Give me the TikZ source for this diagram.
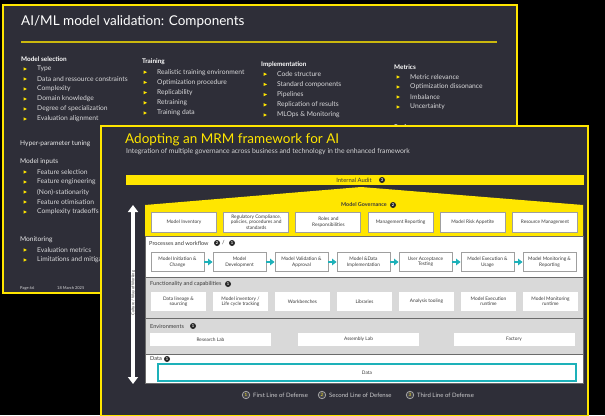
\documentclass[tikz,border=0pt]{standalone}
\usepackage{fontspec}
\setmainfont{Lato}
\usetikzlibrary{arrows.meta}
\definecolor{slate}{HTML}{2E2E38}
\definecolor{eyy}{HTML}{FFE600}
\definecolor{pgrey}{HTML}{D9D9D9}
\definecolor{tealc}{HTML}{1DB1B9}
\definecolor{bordg}{HTML}{6B6B6B}
\definecolor{boxtxt}{HTML}{3A3A3A}
\newcommand\fsz[2]{\fontsize{#1pt}{#2pt}\selectfont}
\tikzset{
 backtitle/.style={anchor=west, text=white, font=\fsz{13.5}{15}, inner sep=0},
 backhead/.style={anchor=west, text=white, font=\fsz{6.4}{7}\bfseries, inner sep=0},
 backhdr/.style={anchor=west, text=white!90!slate, font=\fsz{6.6}{7}, inner sep=0},
 backitem/.style={anchor=west, text=white!82!slate, font=\fsz{6.7}{7.5}, inner sep=0},
 govbox/.style={draw=gray!75, fill=white, line width=0.9, minimum width=65, minimum height=20, inner sep=0.5, align=center, text=boxtxt, font=\fsz{4.8}{5.4}},
 procbox/.style={govbox, minimum width=53, minimum height=19.5},
 funcbox/.style={govbox, draw=none, minimum width=55, minimum height=19},
 envbox/.style={govbox, draw=none, minimum width=121, minimum height=13},
 panellbl/.style={anchor=west, text=boxtxt, font=\fsz{5.6}{6}, inner sep=0},
 numdot/.style={circle, fill=black!85, text=white, font=\fsz{4}{4}\bfseries, inner sep=0, minimum size=6},
 legdot/.style={circle, draw=gray!65, line width=0.7, fill=slate!70!gray, text=eyy!85!white, font=\fsz{4.5}{5}, inner sep=0, minimum size=7.5},
 legtxt/.style={anchor=west, text=white!75!slate, font=\fsz{6}{6.5}, inner sep=0},
 flow/.style={tealc, line width=2.4, -{Triangle[width=6.5,length=4.5]}},
 panel/.style={draw=bordg, line width=1},
}
\begin{document}
\begin{tikzpicture}[x=1pt,y=-1pt]
\useasboundingbox (0,0) rectangle (605,415);
\fill[black] (0,0) rectangle (605,415);
% ---------- back slide ----------
\draw[eyy, line width=1.5, fill=slate] (3,5) rectangle (517,293);
\node[backtitle] (bt) at (21,22) {AI/ML model validation: Components};
\draw[eyy!75!slate, line width=1.2] (21,42) -- (497,42);
% Model selection
\node[backhead] (h-ms) at (21,59) {Model selection};
\foreach \t [count=\i] in {Type, Data and ressource constraints, Complexity, Domain knowledge, Degree of specialization, Evaluation alignment}{
  \node[backitem] (ms\i) at (37,59+10*\i) {\t};
  \fill[eyy] (23.5,59+10*\i-1.7) -- (27,59+10*\i) -- (23.5,59+10*\i+1.7) -- cycle;}
% Training
\node[backhead] (h-tr) at (142,62) {Training};
\foreach \t [count=\i] in {Realistic training environment, Optimization procedure, Replicability, Retraining, Training data}{
  \node[backitem] (tr\i) at (157,62+10.2*\i) {\t};
  \fill[eyy] (143.5,62+10.2*\i-1.7) -- (147,62+10.2*\i) -- (143.5,62+10.2*\i+1.7) -- cycle;}
% Implementation
\node[backhead] (h-im) at (261,65) {Implementation};
\foreach \t [count=\i] in {Code structure, Standard components, Pipelines, Replication of results, MLOps \& Monitoring}{
  \node[backitem] (im\i) at (277,64+10.2*\i) {\t};
  \fill[eyy] (263.5,64+10.2*\i-1.7) -- (267,64+10.2*\i) -- (263.5,64+10.2*\i+1.7) -- cycle;}
% Metrics
\node[backhead] (h-me) at (394,67) {Metrics};
\foreach \t [count=\i] in {Metric relevance, Optimization dissonance, Imbalance, Uncertainty}{
  \node[backitem] (me\i) at (410,67+10*\i) {\t};
  \fill[eyy] (396.5,67+10*\i-1.7) -- (400,67+10*\i) -- (396.5,67+10*\i+1.7) -- cycle;}
\node[backhead] (h-pe) at (394,127.5) {Performance};
% Hyper-parameter / inputs
\node[backhdr] (h-hp) at (20,144) {Hyper-parameter tuning};
\node[backhdr] (h-mi) at (20,162) {Model inputs};
\foreach \t [count=\i] in {Feature selection, Feature engineering, (Non)-stationarity, Feature otimisation, Complexity tradeoffs}{
  \node[backitem] (mi\i) at (37,162+10*\i) {\t};
  \fill[eyy] (23.5,162+10*\i-1.7) -- (27,162+10*\i) -- (23.5,162+10*\i+1.7) -- cycle;}
\node[backhdr] (h-mo) at (20,240) {Monitoring};
\foreach \t [count=\i] in {Evaluation metrics, Limitations and mitigations}{
  \node[backitem] (mo\i) at (37,240+10*\i) {\t};
  \fill[eyy] (23.5,240+10*\i-1.7) -- (27,240+10*\i) -- (23.5,240+10*\i+1.7) -- cycle;}
\node[backitem, font=\fsz{4}{4.5}] (pg) at (20,288) {Page 66};
\node[backitem, font=\fsz{4}{4.5}] (dt) at (57,288) {18 March 2025};
% ---------- front slide ----------
\draw[eyy, line width=1.5, fill=slate] (101,126) rectangle (588,416);
\node[backtitle, text=eyy] (ft) at (125,140) {Adopting an MRM framework for AI};
\node[backitem, font=\fsz{6.85}{7.5}, text=white!80!slate] (fst) at (126,152) {Integration of multiple governance across business and technology in the enhanced framework};
% internal audit
\fill[eyy] (126,175) rectangle (584,185);
\node[panellbl, anchor=center, font=\fsz{5.9}{6.5}] (ia) at (354,180) {Internal Audit};
\node[numdot] (ia-d) at (382,180) {3};
% panels
\filldraw[panel, fill=white] (145,236) rectangle (583,277);
\filldraw[panel, fill=pgrey] (145,277) rectangle (583,318);
\filldraw[panel, fill=pgrey] (145,318) rectangle (583,354);
\filldraw[panel, fill=white] (145,354) rectangle (583,383);
\fill[eyy] (145,236) -- (145,205) -- (361,187) -- (583,205) -- (583,236) -- cycle;
\draw[bordg, line width=1] (145,236) -- (583,236);
% governance
\node[panellbl, anchor=center, font=\fsz{5.4}{6}\bfseries] (mg) at (364,205) {Model Governance};
\node[numdot] (mg-d) at (393,205) {2};
\foreach \t [count=\i] in {Model Inventory, {Regulatory Compliance,\\policies, procedures and\\standards}, {Roles and\\Responsibilities}, Management Reporting, Model Risk Appetite, Resource Management}{
  \node[govbox] (g\i) at (184+72.2*\i-72.2,222) {\t};}
% processes
\node[panellbl] (pw) at (149,243) {Processes and workflow};
\node[numdot] (pw-d2) at (217,243) {2};
\node[panellbl] (pw-sl) at (222,243) {/};
\node[numdot] (pw-d1) at (232,243) {1};
\foreach \t [count=\i] in {{Model Initiation \&\\Change}, {Model\\Development}, {Model Validation \&\\Approval}, {Model \&Data\\Implementation}, {User Acceptance\\Testing}, {Model Execution \&\\Usage}, {Model Monitoring \&\\Reporting}}{
  \node[procbox] (p\i) at (177.5+62*\i-62,262) {\t};}
\foreach \i [evaluate=\i as \j using int(\i+1)] in {1,...,6}{
  \draw[flow] (p\i.east) -- (p\j.west);}
% functionality
\node[panellbl] (fc) at (150,284) {Functionality and capabilities};
\node[numdot] (fc-d) at (228,284) {1};
\foreach \t [count=\i] in {{Data lineage \&\\sourcing}, {Model inventory /\\Life cycle tracking}, Workbenches, Libraries, Analysis tooling, {Model Execution\\runtime}, {Model Monitoring\\runtime}}{
  \node[funcbox] (f\i) at (178.5+62*\i-62,301.5) {\t};}
% environments
\node[panellbl] (en) at (150,326) {Environments};
\node[numdot] (en-d) at (193,326) {1};
\node[envbox] (e1) at (210.5,339.5) {Research Lab};
\node[envbox] (e2) at (358.5,339.5) {Assembly Lab};
\node[envbox] (e3) at (514,339.5) {Factory};
% data
\node[panellbl] (da) at (150,359) {Data};
\node[numdot] (da-d) at (167,359) {1};
\node[govbox, draw=tealc, line width=1.3, minimum width=418, minimum height=17] (dbox) at (367,372.5) {Data};
% culture arrow
\coordinate (cw-top) at (133,205);
\coordinate (cw-bot) at (133,384);
\draw[white, line width=4.5, {Triangle[width=10,length=7]}-{Triangle[width=10,length=7]}] (cw-top) -- (cw-bot);
\node[rotate=90, text=boxtxt, font=\fsz{3.9}{4}, inner sep=0] (cw) at (133.3,293) {Culture / Way of Working};
% legend
\node[legdot] (l1) at (246,395) {1};
\node[legtxt] (l1t) at (253,395) {First Line of Defense};
\node[legdot] (l2) at (322,395) {2};
\node[legtxt] (l2t) at (329,395) {Second Line of Defense};
\node[legdot] (l3) at (410,395) {3};
\node[legtxt] (l3t) at (417,395) {Third Line of Defense};
\end{tikzpicture}
\end{document}
